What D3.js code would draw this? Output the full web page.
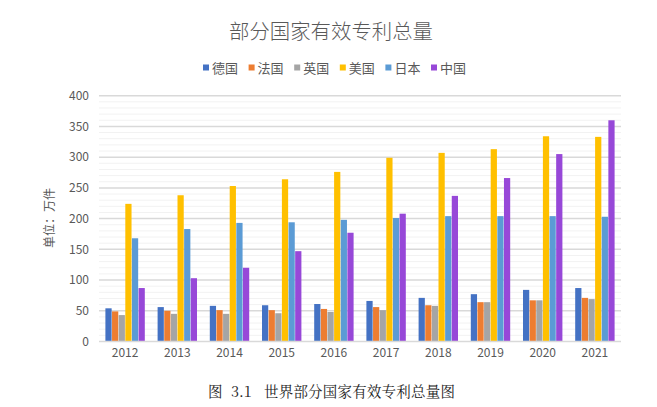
<!DOCTYPE html>
<html><head><meta charset="utf-8">
<script src="https://cdn.jsdelivr.net/npm/d3@7"></script>
<style>body{margin:0;background:#fff}svg{display:block}</style>
</head><body><div id="chart"></div>
<script>
const years = ["2012","2013","2014","2015","2016","2017","2018","2019","2020","2021"];
const seriesNames = ["德国","法国","英国","美国","日本","中国"];
const germany = [54, 56, 58, 59, 61, 66, 71, 77, 84, 87];
const france  = [49, 50, 51, 51, 53, 56, 59, 64, 67, 71];
const uk      = [43, 45, 45, 46, 48, 51, 58, 64, 67, 69];
const usa     = [224, 238, 253, 264, 276, 299, 307, 313, 334, 333];
const japan   = [168, 183, 193, 194, 198, 201, 204, 204, 204, 203];
const china   = [87, 103, 120, 147, 177, 208, 237, 266, 305, 360];
const yTicks = [0,50,100,150,200,250,300,350,400];
const colors = ["#4472C4","#ED7D31","#A5A5A5","#FFC000","#5B9BD5","#9748D8"];
const seriesValues = [germany, france, uk, usa, japan, china];

const W = 657, H = 407;
const svg = d3.select("#chart").append("svg").attr("width", W).attr("height", H);
const fontSans = "'Noto Sans CJK SC','Microsoft YaHei',sans-serif";

const x0 = d3.scaleBand().domain(years).range([99, 621]).paddingInner(0.23).paddingOuter(0.115);
const x1 = d3.scaleBand().domain(seriesNames).range([0, x0.bandwidth()]).padding(0.06);
const y = d3.scaleLinear().domain([0, 400]).range([341.5, 95.7]);

// minor grid
const minor = d3.range(0, 401, 10).filter(v => v % 50 !== 0);
svg.append("g").selectAll("line").data(minor).join("line")
  .attr("x1", 99).attr("x2", 621)
  .attr("y1", d => y(d)).attr("y2", d => y(d))
  .attr("stroke", "#F2F2F2").attr("stroke-width", 1);
// major grid
svg.append("g").selectAll("line").data(yTicks.filter(v => v > 0)).join("line")
  .attr("x1", 99).attr("x2", 621)
  .attr("y1", d => y(d)).attr("y2", d => y(d))
  .attr("stroke", "#D9D9D9").attr("stroke-width", 1.5);

// bars
const g = svg.append("g");
years.forEach((yr, i) => {
  seriesNames.forEach((s, j) => {
    const v = seriesValues[j][i];
    g.append("rect")
      .attr("x", x0(yr) + x1(s))
      .attr("y", y(v))
      .attr("width", x1.bandwidth())
      .attr("height", y(0) - y(v))
      .attr("fill", colors[j]);
  });
});

// baseline
svg.append("line").attr("x1", 99).attr("x2", 621).attr("y1", y(0)).attr("y2", y(0))
  .attr("stroke", "#D9D9D9").attr("stroke-width", 1.5);

// y axis
const yAxis = d3.axisLeft(y).tickValues(yTicks).tickSize(0).tickPadding(0);
const ya = svg.append("g").attr("transform", "translate(89,0)").call(yAxis);
ya.select(".domain").remove();
ya.selectAll("text").attr("fill", "#595959").style("font-size", "12px").style("font-family", fontSans);

// x axis
const xAxis = d3.axisBottom(x0).tickSize(0).tickPadding(0);
const xa = svg.append("g").attr("transform", "translate(0,348)").call(xAxis);
xa.select(".domain").remove();
xa.selectAll("text").attr("fill", "#595959").style("font-size", "12px").style("font-family", fontSans);

// title
svg.append("text").attr("x", 331).attr("y", 39).attr("text-anchor", "middle")
  .attr("fill", "#595959").style("font-size", "20.4px").style("font-weight", "300").style("font-family", fontSans)
  .text("部分国家有效专利总量");

// legend
const leg = svg.append("g");
seriesNames.forEach((s, j) => {
  const lx = 203 + j * 45.6;
  leg.append("rect").attr("x", lx).attr("y", 64.5).attr("width", 6).attr("height", 6).attr("fill", colors[j]);
  leg.append("text").attr("x", lx + 9).attr("y", 72.5).attr("fill", "#595959")
    .style("font-size", "13px").style("font-family", fontSans).text(s);
});

// y axis title
svg.append("text").attr("transform", "translate(54,218) rotate(-90)").attr("text-anchor", "middle")
  .attr("fill", "#595959").style("font-size", "12px").style("font-family", fontSans)
  .text("单位：万件");

// caption
const capFont = "'Noto Serif CJK SC','Noto Sans CJK SC',serif";
svg.append("text").attr("x", 208).attr("y", 397).attr("fill", "#222")
  .style("font-size", "14.5px").style("font-family", capFont).text("图");
svg.append("text").attr("x", 231).attr("y", 397).attr("fill", "#222")
  .style("font-size", "14.5px").style("font-family", capFont).text("3.1");
svg.append("text").attr("x", 264).attr("y", 397).attr("fill", "#222")
  .style("font-size", "14.5px").style("letter-spacing", "0.2px").style("font-family", capFont)
  .text("世界部分国家有效专利总量图");
</script></body></html>
